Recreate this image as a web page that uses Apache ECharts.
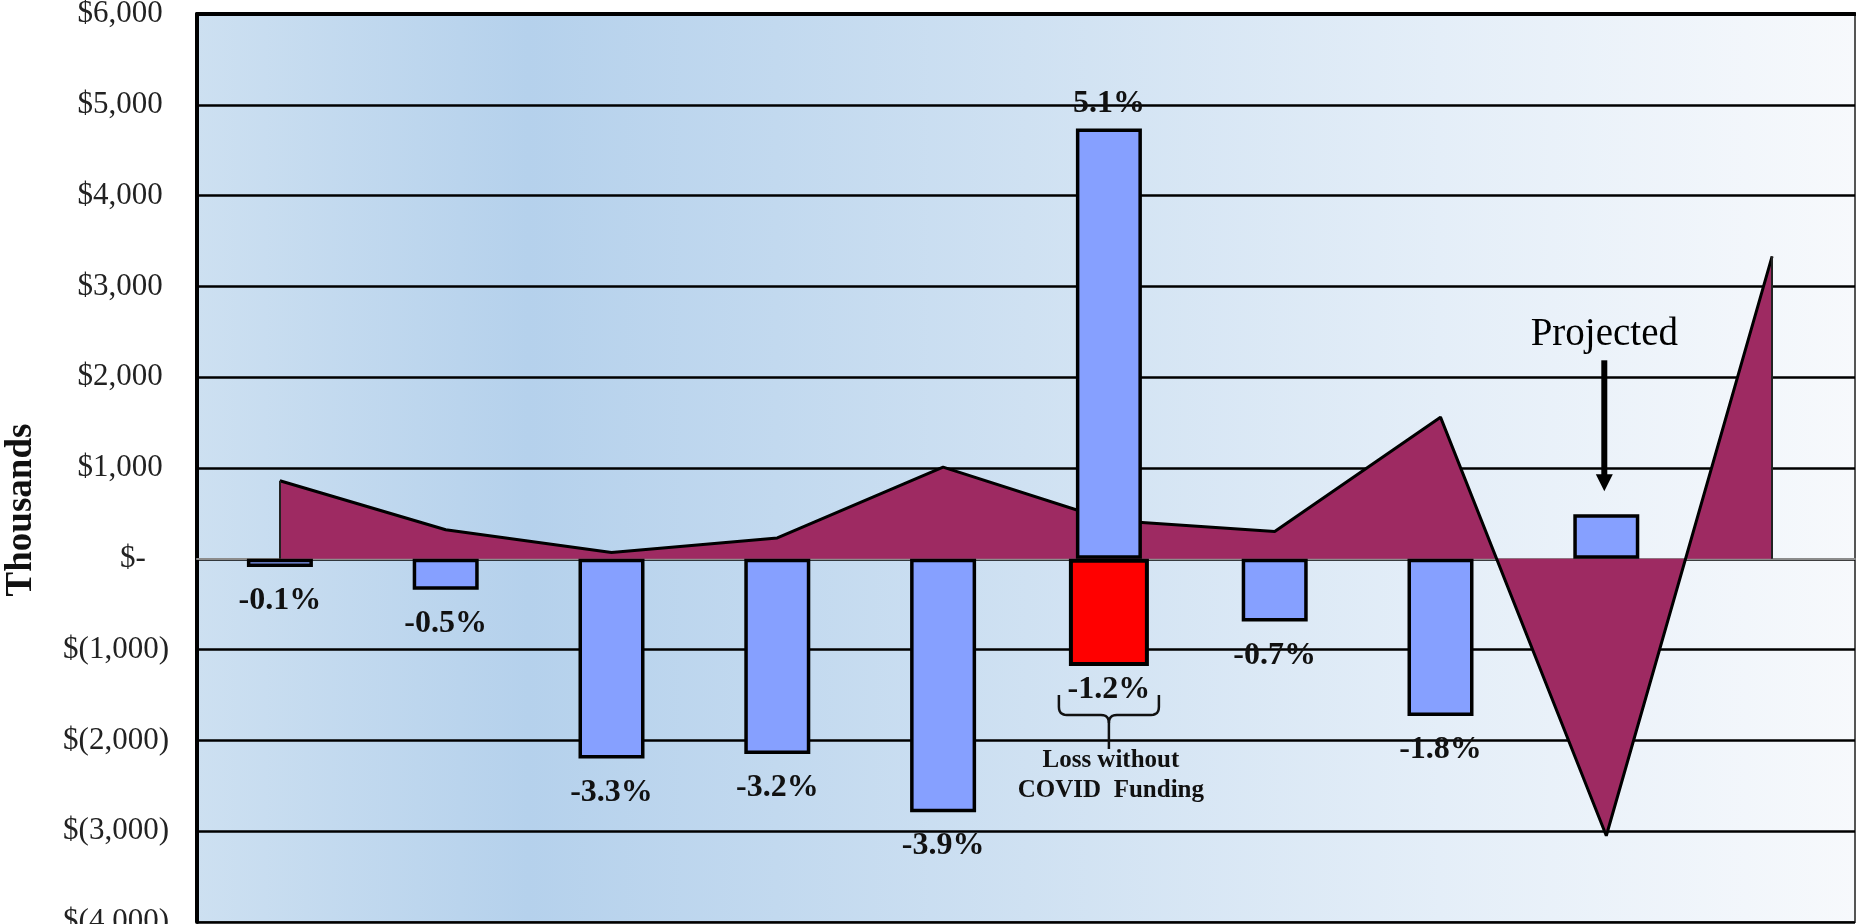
<!DOCTYPE html>
<html>
<head>
<meta charset="utf-8">
<script src="https://cdn.jsdelivr.net/npm/echarts@6/dist/echarts.min.js"></script>
<style>
  html, body { margin: 0; padding: 0; background: #ffffff; }
  #chart { width: 1856px; height: 924px; }
</style>
</head>
<body>
<div id="chart"></div>
<script>
// Periods along the x axis (not labelled on the chart)
const periods = ['P1', 'P2', 'P3', 'P4', 'P5', 'P6', 'P7', 'P8', 'P9', 'P10'];

// Net operating result, $ thousands (last period has no bar)
const netResult = [-90, -340, -2200, -2150, -2790, 4740, -690, -1730, 490, null];
const netResultPct = ['-0.1%', '-0.5%', '-3.3%', '-3.2%', '-3.9%', '5.1%', '-0.7%', '-1.8%', '', ''];

// Result with COVID funding removed, $ thousands
const lossWithoutCovid = [null, null, null, null, null, -1180, null, null, null, null];
const lossWithoutCovidPct = ['', '', '', '', '', '-1.2%', '', '', '', ''];

// Change in cash, $ thousands (filled area)
const cashChange = [860, 320, 70, 230, 1010, 425, 300, 1560, -3050, 3330];

// Value axis range
const yMin = -4000, yMax = 6000, yStep = 1000;

const projectedIndex = 8;
const covidIndex = 5;

const SERIF = '"Liberation Serif", "Times New Roman", serif';

function money(v) {
  if (v === 0) return '$-   ';
  const s = Math.abs(v).toLocaleString('en-US');
  return v < 0 ? '$(' + s + ')' : '$' + s + '\u2009';
}

const chart = echarts.init(document.getElementById('chart'), null, { renderer: 'canvas' });

const barLabel = {
  show: true,
  position: 'outside',
  fontFamily: SERIF,
  fontSize: 32,
  fontWeight: 'bold',
  color: '#111'
};

// Labels sit a little closer above positive bars than below negative ones
const netResultData = netResult.map(v => ({
  value: v,
  label: { distance: v > 0 ? 9 : 18 }
}));

const last = cashChange.length - 1;

const option = {
  animation: false,
  backgroundColor: '#ffffff',
  grid: {
    left: 197, right: 1, top: 14, bottom: 2,
    containLabel: false,
    outerBoundsMode: 'none',
    show: true,
    borderColor: '#555',
    borderWidth: 2,
    backgroundColor: new echarts.graphic.LinearGradient(0, 0, 1, 0, [
      { offset: 0, color: '#cde0f1' },
      { offset: 0.2, color: '#b5d1ec' },
      { offset: 0.5, color: '#cfe1f2' },
      { offset: 0.75, color: '#e4eef8' },
      { offset: 1, color: '#f7f9fc' }
    ])
  },
  xAxis: [
    {
      type: 'category',
      data: periods,
      axisLabel: { show: false },
      axisTick: { show: false },
      axisLine: { show: true, onZero: true, lineStyle: { color: '#8c8c8c', width: 2 } }
    },
    {
      type: 'category',
      data: periods,
      position: 'top',
      axisLabel: { show: false },
      axisTick: { show: false },
      axisLine: { show: true, onZero: false, lineStyle: { color: '#000', width: 4 } }
    }
  ],
  yAxis: {
    type: 'value',
    min: yMin,
    max: yMax,
    interval: yStep,
    axisLine: { show: true, lineStyle: { color: '#000', width: 4 } },
    axisTick: { show: false },
    axisLabel: {
      fontFamily: SERIF,
      fontSize: 31,
      color: '#222',
      margin: 28,
      formatter: money
    },
    splitLine: { show: true, lineStyle: { color: '#000', width: 2.5 } }
  },
  series: [
    {
      name: 'Change in cash',
      type: 'line',
      xAxisIndex: 0,
      data: cashChange,
      symbol: 'none',
      z: 2,
      lineStyle: { color: '#000', width: 3 },
      areaStyle: { color: '#9e2a62', opacity: 1 },
      markLine: {
        silent: true,
        symbol: 'none',
        label: { show: false },
        lineStyle: { color: '#222', width: 2, type: 'solid' },
        data: [
          [{ coord: [0, 0] }, { coord: [0, cashChange[0]] }],
          [{ coord: [last, 0] }, { coord: [last, cashChange[last]] }]
        ]
      }
    },
    {
      name: 'Net result',
      type: 'bar',
      xAxisIndex: 0,
      data: netResultData,
      barWidth: 66,
      z: 3,
      itemStyle: { color: '#86a0ff', borderColor: '#000', borderWidth: 3.5 },
      label: Object.assign({}, barLabel, {
        formatter: p => netResultPct[p.dataIndex]
      })
    },
    {
      name: 'Loss without COVID funding',
      type: 'bar',
      xAxisIndex: 1,
      data: lossWithoutCovid,
      barWidth: 80,
      z: 3,
      itemStyle: { color: '#ff0000', borderColor: '#000', borderWidth: 4 },
      label: Object.assign({}, barLabel, {
        distance: 8,
        formatter: p => lossWithoutCovidPct[p.dataIndex]
      })
    }
  ]
};

chart.setOption(option);

// Annotations placed relative to the bars they describe
const pRed = chart.convertToPixel({ seriesIndex: 2 }, [covidIndex, lossWithoutCovid[covidIndex]]);
const pProj = chart.convertToPixel({ seriesIndex: 1 }, [projectedIndex, netResult[projectedIndex]]);

// Curly brace under the red bar, built from straight runs and rounded corners
function quad(p0, c, p1, steps) {
  const out = [];
  for (let i = 1; i <= steps; i++) {
    const t = i / steps, u = 1 - t;
    out.push([u * u * p0[0] + 2 * u * t * c[0] + t * t * p1[0],
              u * u * p0[1] + 2 * u * t * c[1] + t * t * p1[1]]);
  }
  return out;
}
const bx = pRed[0], by = pRed[1];
const sideTop = by + 29, braceY = by + 49, stemEnd = by + 83, hw = 50, r = 8;
const leftHalf = [[bx - hw, sideTop], [bx - hw, braceY - r]]
  .concat(quad([bx - hw, braceY - r], [bx - hw, braceY], [bx - hw + r, braceY], 6))
  .concat([[bx - r, braceY]])
  .concat(quad([bx - r, braceY], [bx, braceY], [bx, braceY + r], 6))
  .concat([[bx, stemEnd]]);
const rightHalf = [[bx + hw, sideTop], [bx + hw, braceY - r]]
  .concat(quad([bx + hw, braceY - r], [bx + hw, braceY], [bx + hw - r, braceY], 6))
  .concat([[bx + r, braceY]])
  .concat(quad([bx + r, braceY], [bx, braceY], [bx, braceY + r], 6));

const px = pProj[0] - 2, py = pProj[1];
const tipY = py - 23, shaftTop = py - 154;

chart.setOption({
  graphic: [
    {
      type: 'text',
      x: 21, y: 510,
      rotation: Math.PI / 2,
      style: {
        text: 'Thousands',
        font: 'bold 37px ' + SERIF,
        fill: '#111',
        textAlign: 'center',
        textVerticalAlign: 'middle'
      }
    },
    {
      type: 'polyline',
      z: 10,
      shape: { points: leftHalf },
      style: { stroke: '#111', lineWidth: 2.5, fill: null, lineJoin: 'round' }
    },
    {
      type: 'polyline',
      z: 10,
      shape: { points: rightHalf },
      style: { stroke: '#111', lineWidth: 2.5, fill: null, lineJoin: 'round' }
    },
    {
      type: 'text',
      z: 10,
      x: bx + 2, y: by + 110,
      style: {
        text: 'Loss without\nCOVID  Funding',
        font: 'bold 25px ' + SERIF,
        lineHeight: 30,
        fill: '#111',
        textAlign: 'center',
        textVerticalAlign: 'middle'
      }
    },
    {
      type: 'text',
      z: 10,
      x: px, y: py - 180,
      style: {
        text: 'Projected',
        font: '39px ' + SERIF,
        fill: '#000',
        textAlign: 'center',
        textVerticalAlign: 'middle'
      }
    },
    {
      type: 'line',
      z: 10,
      shape: { x1: px, y1: shaftTop, x2: px, y2: tipY - 14 },
      style: { stroke: '#000', lineWidth: 6 }
    },
    {
      type: 'polygon',
      z: 10,
      shape: { points: [[px - 8.5, tipY - 17], [px + 8.5, tipY - 17], [px, tipY]] },
      style: { fill: '#000' }
    }
  ]
});
</script>
</body>
</html>
